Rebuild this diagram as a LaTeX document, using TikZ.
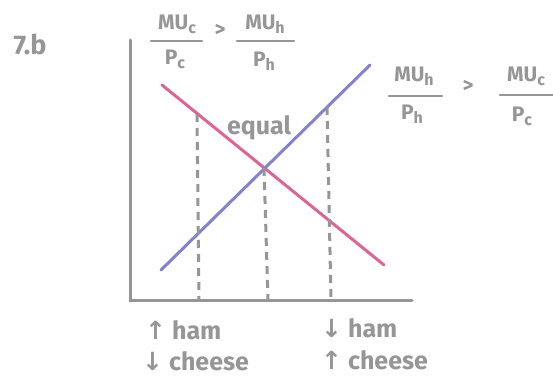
\documentclass[tikz,border=0pt]{standalone}
\usepackage{fontspec}
\setmainfont{Fira Sans}
\newfontfamily\arrowfont{DejaVu Sans}
\definecolor{pen}{RGB}{150,150,150}
\definecolor{pinkline}{RGB}{222,100,150}
\definecolor{blueline}{RGB}{130,130,205}
\newcommand{\subl}[1]{\raisebox{-4pt}{\fontsize{16}{17}\selectfont #1}}
\begin{document}
\begin{tikzpicture}[x=1pt,y=-1pt,
  axis/.style={draw=pen,line width=3pt,line cap=round},
  curve/.style={line width=3pt,line cap=round},
  guide/.style={draw=pen,line width=3pt,dash pattern=on 8pt off 6pt},
  bar/.style={draw=pen,line width=2.6pt,line cap=round},
  lbl/.style={text=pen,font=\bfseries\fontsize{25}{27}\selectfont,inner sep=0pt},
  frac/.style={text=pen,font=\bfseries\fontsize{21}{23}\selectfont,inner sep=0pt}]
\useasboundingbox (0,0) rectangle (553,377);
\coordinate (o) at (130,300);
\coordinate (ytop) at (130,40);
\coordinate (xend) at (412,300);
\draw[axis] (ytop) -- (o) -- (xend);
\coordinate (p1) at (162,85);
\coordinate (p2) at (384,265);
\coordinate (b1) at (161,270);
\coordinate (b2) at (370,65);
\draw[curve,draw=pinkline] (p1) -- (p2);
\draw[curve,draw=blueline] (b1) -- (b2);
\coordinate (d1t) at (197,114);
\coordinate (d1b) at (199,300);
\coordinate (d2t) at (264,168);
\coordinate (d2b) at (268,300);
\coordinate (d3t) at (327,107);
\coordinate (d3b) at (331,300);
\draw[guide] (d1t) -- (d1b);
\draw[guide] (d2t) -- (d2b);
\draw[guide] (d3t) -- (d3b);
\node[lbl,font=\bfseries\fontsize{27}{29}\selectfont] (title) at (30,44) {7.b};
\node[lbl] (eq) at (259,128) {equal};
% top-left fraction MUc/Pc > MUh/Ph
\node[frac] (n1) at (177,24) {MU\subl{c}};
\coordinate (a1) at (151,41); \coordinate (a2) at (202,41);
\draw[bar] (a1) -- (a2);
\node[frac] (d1) at (175,59) {P\subl{c}};
\node[frac] (g1) at (220,30) {>};
\node[frac] (n2) at (265,24) {MU\subl{h}};
\coordinate (a3) at (237,41); \coordinate (a4) at (294,41);
\draw[bar] (a3) -- (a4);
\node[frac] (d2) at (264,61) {P\subl{h}};
% right fraction MUh/Ph > MUc/Pc
\node[frac] (n3) at (414,76) {MU\subl{h}};
\coordinate (a5) at (389,96); \coordinate (a6) at (442,96);
\draw[bar] (a5) -- (a6);
\node[frac] (d3) at (412,114) {P\subl{h}};
\node[frac] (g2) at (468,86) {>};
\node[frac] (n4) at (526,76) {MU\subl{c}};
\coordinate (a7) at (500,95); \coordinate (a8) at (553,95);
\draw[bar] (a7) -- (a8);
\node[frac] (d4) at (522,116) {P\subl{c}};
\node[lbl,anchor=west] (l1) at (145,330) {{\arrowfont ↑} ham};
\node[lbl,anchor=west] (l2) at (142,361) {{\arrowfont ↓} cheese};
\node[lbl,anchor=west] (r1) at (321,328) {{\arrowfont ↓} ham};
\node[lbl,anchor=west] (r2) at (321,360) {{\arrowfont ↑} cheese};
\end{tikzpicture}
\end{document}
